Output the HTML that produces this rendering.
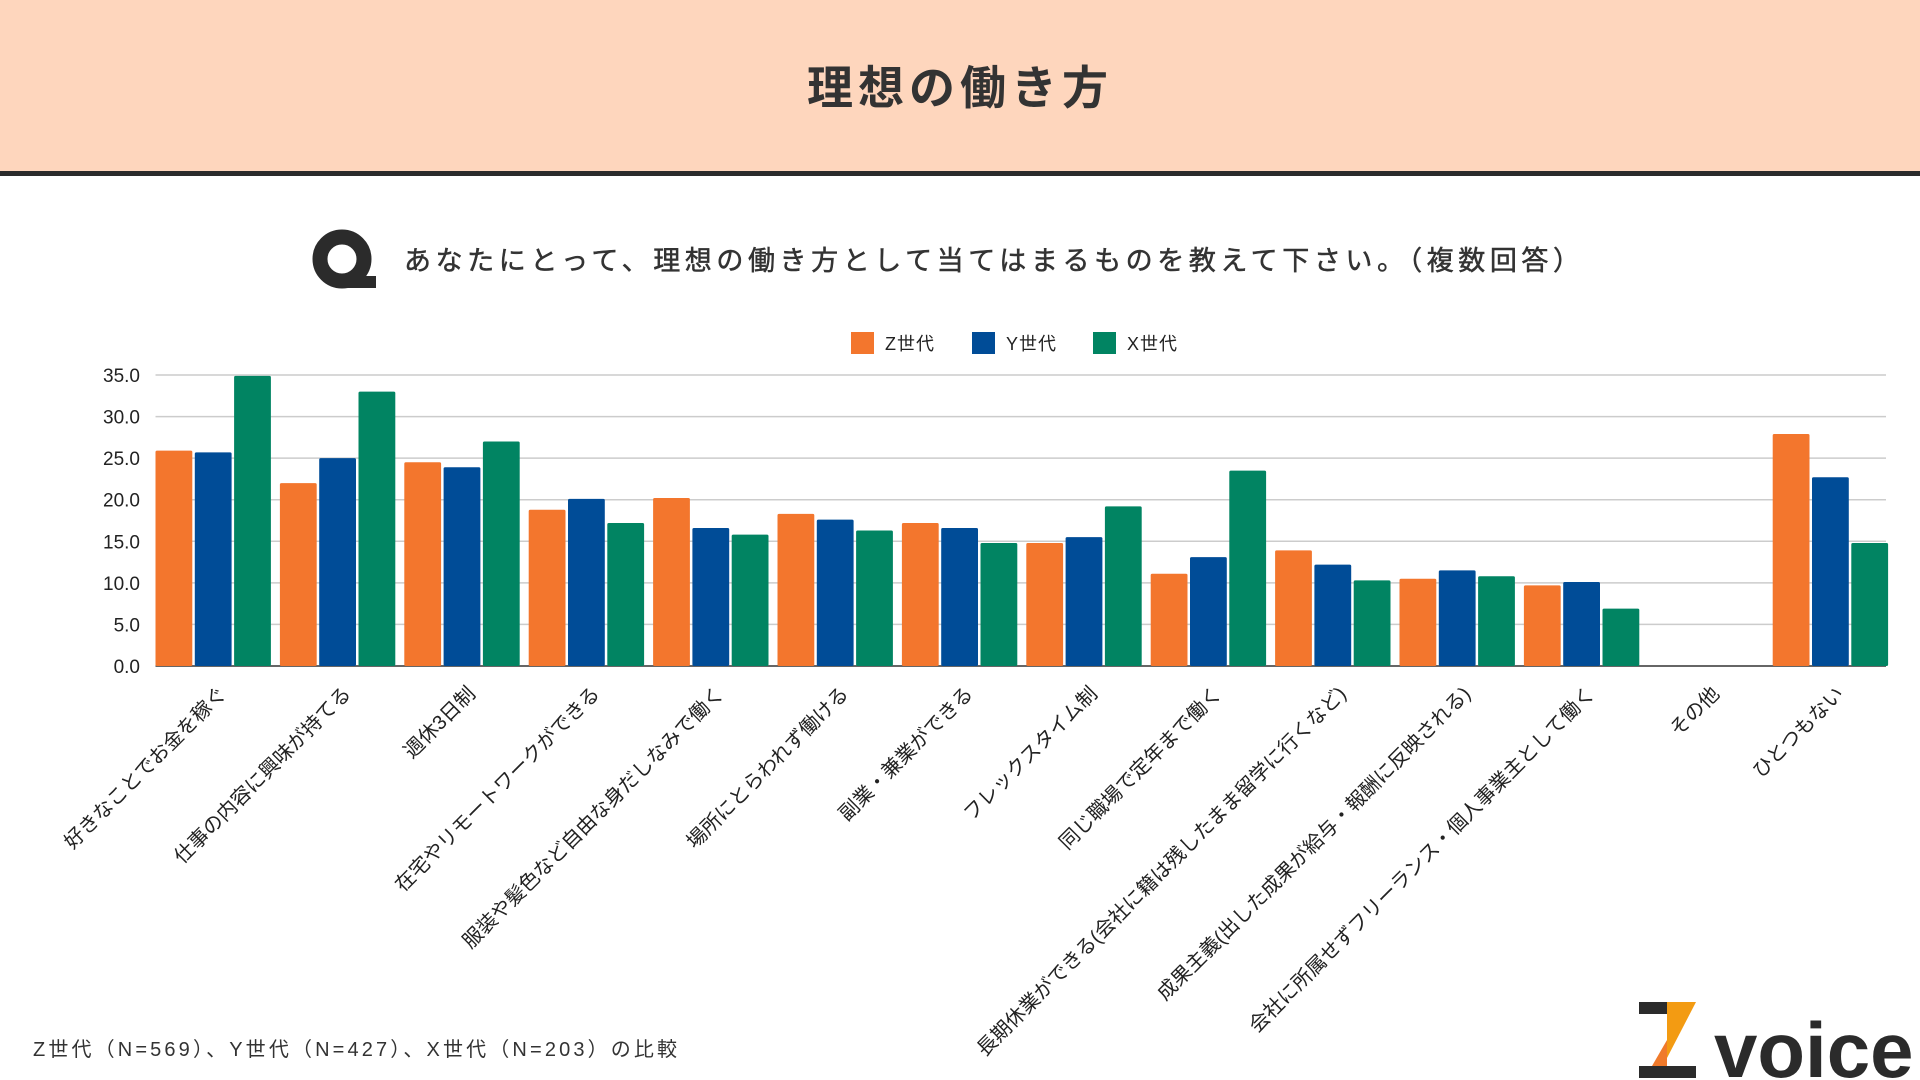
<!DOCTYPE html>
<html><head><meta charset="utf-8"><style>
html,body{margin:0;padding:0;width:1920px;height:1080px;overflow:hidden;background:#fff;font-family:"Liberation Sans","Noto Sans CJK JP",sans-serif;}
svg text{font-family:"Liberation Sans","Noto Sans CJK JP",sans-serif;}
</style></head><body>
<svg id="chart" width="1920" height="1080" viewBox="0 0 1920 1080" xmlns="http://www.w3.org/2000/svg">
<rect x="0" y="0" width="1920" height="172" fill="#fed6bd"/>
<rect x="0" y="171" width="1920" height="5" fill="#2b2b2b"/>
<text x="960" y="104" text-anchor="middle" font-size="46" font-weight="bold" fill="#333" letter-spacing="5">理想の働き方</text>
<g>
<circle cx="342" cy="259" r="22" fill="none" stroke="#2b2b2b" stroke-width="15"/>
<rect x="342" y="276" width="34" height="12" fill="#2b2b2b"/>
</g>
<text x="404" y="270" font-size="27" fill="#333" stroke="#333" stroke-width="0.5" textLength="1176" lengthAdjust="spacing">あなたにとって、理想の働き方として当てはまるものを教えて下さい。（複数回答）</text>
<g id="legend"></g>
<g id="grid"></g>
<g id="bars"></g>
<g id="ylabels"></g>
<g id="xlabels"></g>
<text x="33" y="1056" font-size="20" fill="#333" textLength="644" lengthAdjust="spacing">Z世代（N=569）、Y世代（N=427）、X世代（N=203）の比較</text>
<g>
<rect x="1639" y="1002" width="40" height="12" fill="#2b2b2b"/>
<polygon points="1667,1002 1696,1002 1667,1058" fill="#f39b12"/>
<polygon points="1667,1040 1667,1066 1652,1066" fill="#f07a2b"/>
<rect x="1639" y="1066" width="57" height="12" fill="#2b2b2b"/>
<text x="1714" y="1077" font-size="78" font-weight="bold" fill="#2b2b2b">voice</text>
</g>
</svg>
<script>
const categories=["好きなことでお金を稼ぐ","仕事の内容に興味が持てる","週休3日制","在宅やリモートワークができる","服装や髪色など自由な身だしなみで働く","場所にとらわれず働ける","副業・兼業ができる","フレックスタイム制","同じ職場で定年まで働く","長期休業ができる(会社に籍は残したまま留学に行くなど)","成果主義(出した成果が給与・報酬に反映される)","会社に所属せずフリーランス・個人事業主として働く","その他","ひとつもない"];
const seriesNames=["Z世代","Y世代","X世代"];
const zValues=[25.9,22.0,24.5,18.8,20.2,18.3,17.2,14.8,11.1,13.9,10.5,9.7,0,27.9];
const yValues=[25.7,25.0,23.9,20.1,16.6,17.6,16.6,15.5,13.1,12.2,11.5,10.1,0,22.7];
const xValues=[34.9,33.0,27.0,17.2,15.8,16.3,14.8,19.2,23.5,10.3,10.8,6.9,0,14.8];
const yTicks=[0,5,10,15,20,25,30,35];
const colors=["#f3762d","#004c97","#018462"];
const NS="http://www.w3.org/2000/svg";
const L=155.5,R=1886,Y0=666,Y35=375;
const yS=v=>Y0-(v/35)*(Y0-Y35);
const gw=124.4;
const bw=36.8,gap=2.5;
function mk(t,a,p){const e=document.createElementNS(NS,t);for(const k in a)e.setAttribute(k,a[k]);p.appendChild(e);return e;}
const grid=document.getElementById('grid'),yl=document.getElementById('ylabels');
yTicks.forEach(t=>{
 const ln=mk('line',{x1:L,x2:R,y1:yS(t),y2:yS(t),stroke:t===0?'#666':'#ccc','stroke-width':t===0?2:1.5},grid);
 
 
 const tx=mk('text',{x:140,y:yS(t)+7,'text-anchor':'end','font-size':19,fill:'#222'},yl);
 tx.textContent=t.toFixed(1);
 
 
});
const bars=document.getElementById('bars'),xl=document.getElementById('xlabels');
const all=[zValues,yValues,xValues];
categories.forEach((c,i)=>{
 const gx=L+i*gw;
 all.forEach((vals,s)=>{
  const v=vals[i];if(v<=0)return;
  const r=mk('rect',{x:gx+s*(bw+gap),y:yS(v),width:bw,height:Y0-yS(v),fill:colors[s],rx:1.5},bars);
  
  
 });
 const cx=gx+gw/2+10;
 const tx=mk('text',{x:cx,y:695,'text-anchor':'end','font-size':20,fill:'#222',transform:`rotate(-45 ${cx} 695)`},xl);
 tx.textContent=c;
 
 
});
const lg=document.getElementById('legend');
const lx=[851,972,1093];
seriesNames.forEach((n,s)=>{
 const r=mk('rect',{x:lx[s],y:332,width:23,height:22,fill:colors[s]},lg);
 
 
 const t=mk('text',{x:lx[s]+34,y:350,'font-size':18,fill:'#222','letter-spacing':1},lg);
 t.textContent=n;
 
 
});
</script>
</body></html>
